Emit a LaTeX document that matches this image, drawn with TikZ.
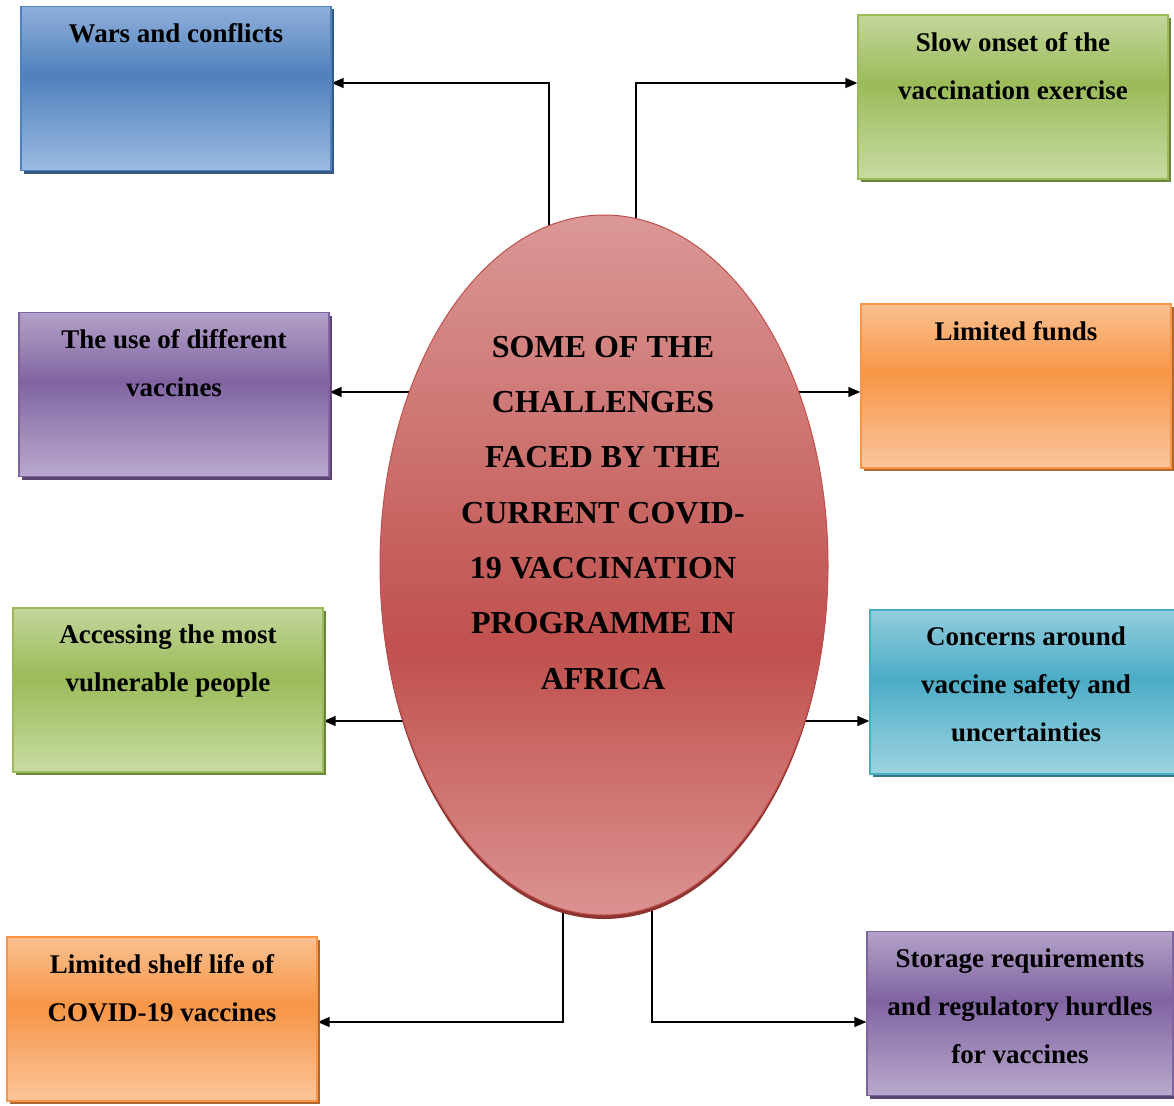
\documentclass[tikz,border=0pt]{standalone}
\usepackage{fontspec}
\setmainfont{Liberation Serif}
\usetikzlibrary{arrows.meta,shadows,calc,shapes.geometric}
\pgfdeclarelayer{bg}
\pgfsetlayers{bg,main}
% palettes
\definecolor{btop}{HTML}{8FAFDA}\definecolor{bmid}{HTML}{4F81BD}\definecolor{bbot}{HTML}{9CBBE1}
\definecolor{gtop}{HTML}{C3D69B}\definecolor{gmid}{HTML}{9BBB59}\definecolor{gbot}{HTML}{C8DBA3}
\definecolor{ptop}{HTML}{B3A2C8}\definecolor{pmid}{HTML}{8064A2}\definecolor{pbot}{HTML}{B9A9CD}
\definecolor{otop}{HTML}{FAC090}\definecolor{omid}{HTML}{F79646}\definecolor{obot}{HTML}{FBC59C}
\definecolor{ctop}{HTML}{93CDDD}\definecolor{cmid}{HTML}{4BACC6}\definecolor{cbot}{HTML}{9ED4E1}
\definecolor{etop}{HTML}{DA9896}\definecolor{emid}{HTML}{C0504D}\definecolor{ebot}{HTML}{DB9391}
\definecolor{eshad}{HTML}{8E3431}
\pgfdeclareverticalshading{blueshade}{100bp}{color(0bp)=(bbot); color(25bp)=(bbot); color(54bp)=(bmid); color(75bp)=(btop); color(100bp)=(btop)}
\pgfdeclareverticalshading{greenshade}{100bp}{color(0bp)=(gbot); color(25bp)=(gbot); color(54bp)=(gmid); color(75bp)=(gtop); color(100bp)=(gtop)}
\pgfdeclareverticalshading{purpleshade}{100bp}{color(0bp)=(pbot); color(25bp)=(pbot); color(54bp)=(pmid); color(75bp)=(ptop); color(100bp)=(ptop)}
\pgfdeclareverticalshading{orangeshade}{100bp}{color(0bp)=(obot); color(25bp)=(obot); color(54bp)=(omid); color(75bp)=(otop); color(100bp)=(otop)}
\pgfdeclareverticalshading{cyanshade}{100bp}{color(0bp)=(cbot); color(25bp)=(cbot); color(54bp)=(cmid); color(75bp)=(ctop); color(100bp)=(ctop)}
\pgfdeclareverticalshading{ellshade}{100bp}{color(0bp)=(ebot); color(25bp)=(ebot); color(44bp)=(emid); color(75bp)=(etop); color(100bp)=(etop)}
\tikzset{
  box/.style 2 args={rectangle, minimum width=310pt, minimum height=164pt, line width=1.3pt,
    draw=#1, shading=#2, general shadow={fill=#1!70!black, shadow xshift=2.5pt, shadow yshift=-3pt}},
  bluebox/.style={box={bmid}{blueshade}},
  greenbox/.style={box={gmid}{greenshade}},
  purplebox/.style={box={pmid}{purpleshade}},
  orangebox/.style={box={omid}{orangeshade}},
  cyanbox/.style={box={cmid}{cyanshade}},
  lbl/.style={anchor=north, align=center, inner sep=0pt, font=\bfseries\fontsize{27}{48}\selectfont},
  conn/.style={line width=1.4pt, -{Triangle[length=12pt,width=10pt]}},
}
\begin{document}
\begin{tikzpicture}[x=1pt,y=-1pt]
\useasboundingbox (0,0) rectangle (1174,1105);
% boxes
\node[bluebox]   (wars)    at (176,88.5)  {};
\node[greenbox]  (slow)    at (1013,97)   {};
\node[purplebox] (diff)    at (174,394.5) {};
\node[orangebox] (funds)   at (1016,386)  {};
\node[greenbox]  (access)  at (168,690)   {};
\node[cyanbox, minimum width=312pt] (concern) at (1026,692)  {};
\node[orangebox] (shelf)   at (162,1019)  {};
\node[purplebox, minimum width=306pt] (storage) at (1020,1013.5) {};
% labels
\node[lbl] (wars-t)    at ($(wars.north)+(0,17.5)$)    {Wars and conflicts};
\node[lbl] (slow-t)    at ($(slow.north)+(0,17.5)$)    {Slow onset of the\\vaccination exercise};
\node[lbl] (diff-t)    at ($(diff.north)+(0,17.5)$)    {The use of different\\vaccines};
\node[lbl] (funds-t)   at ($(funds.north)+(0,17.5)$)   {Limited funds};
\node[lbl] (access-t)  at ($(access.north)+(0,17.5)$)  {Accessing the most\\vulnerable people};
\node[lbl] (concern-t) at ($(concern.north)+(0,17.5)$) {Concerns around\\vaccine safety and\\uncertainties};
\node[lbl] (shelf-t)   at ($(shelf.north)+(0,17.5)$)   {Limited shelf life of\\COVID-19 vaccines};
\node[lbl] (storage-t) at ($(storage.north)+(0,17.5)$) {Storage requirements\\and regulatory hurdles\\for vaccines};
% central ellipse
\node[ellipse, minimum width=448pt, minimum height=700pt, inner sep=0pt, draw=emid, line width=1pt,
      shading=ellshade, general shadow={fill=eshad, shadow yshift=-4pt}] (e) at (604,565) {};
\node[anchor=north, align=center, inner sep=0pt, font=\bfseries\fontsize{32}{55.3}\selectfont] (etext) at (603,336)
  {SOME OF THE\\CHALLENGES\\FACED BY THE\\CURRENT COVID-\\19 VACCINATION\\PROGRAMME IN\\AFRICA};
% junction levels
\coordinate (jt) at (0,83);
\coordinate (jd) at (0,392);
\coordinate (ja) at (0,721);
\coordinate (jb) at (0,1022);
\begin{pgfonlayer}{bg}
\draw[conn] ($(e.center)+(-55,-200)$) |- (wars.east |- jt);
\draw[conn] ($(e.center)+(32,-200)$) |- (slow.west |- jt);
\draw[conn] (e.center |- jd) -- (diff.east |- jd);
\draw[conn] (e.center |- jd) -- (funds.west |- jd);
\draw[conn] (e.center |- ja) -- (access.east |- ja);
\draw[conn] (e.center |- ja) -- (concern.west |- ja);
\draw[conn] ($(e.center)+(-41,200)$) |- (shelf.east |- jb);
\draw[conn] ($(e.center)+(48,200)$) |- (storage.west |- jb);
\end{pgfonlayer}
\end{tikzpicture}
\end{document}
